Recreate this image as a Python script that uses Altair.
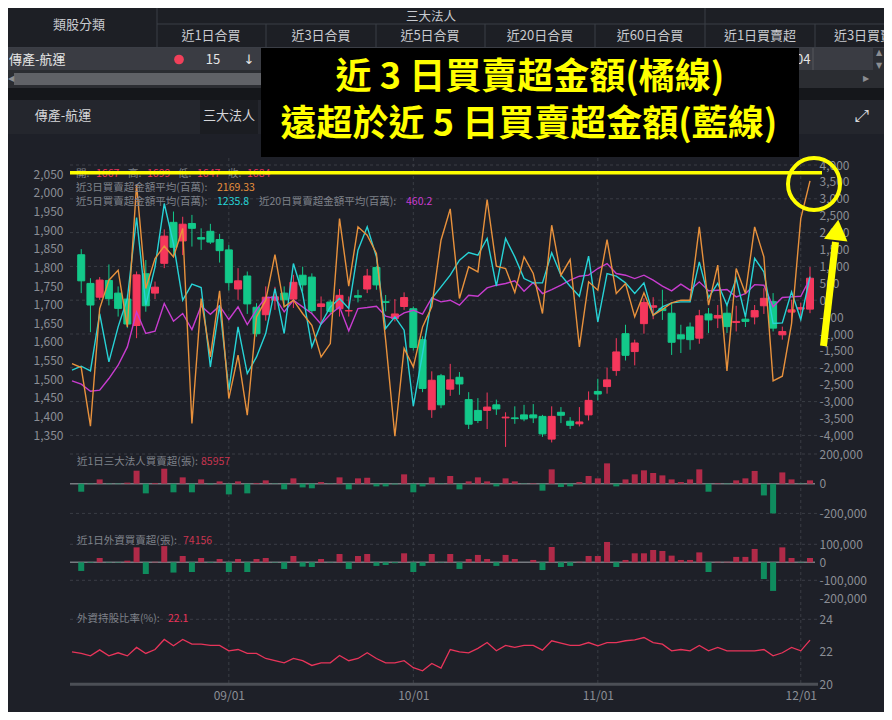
import altair as alt
import pandas as pd

OFF = 8
W, H = 876, 704
FONT = "Noto Sans CJK TC"

# ---------------- data ----------------
day_idx = list(range(-1, 80))     # line series (81 points)
cand_idx = list(range(0, 80))     # candles / bars (80 days)
tick_idx = [16, 36, 56, 78]
tick_lab = ["09/01", "10/01", "11/01", "12/01"]

opens = [1834, 1757, 1720, 1765, 1731, 1715, 1644, 1783, 1731, 1811,
         1921, 1871, 1918, 1880, 1897, 1875, 1847, 1742, 1777, 1693,
         1673, 1712, 1731, 1715, 1779, 1774, 1695, 1707, 1689, 1683,
         1724, 1742, 1800, 1708, 1663, 1695, 1689, 1606, 1418, 1509,
         1473, 1505, 1445, 1416, 1416, 1431, 1396, 1396, 1404, 1404,
         1400, 1339, 1411, 1387, 1380, 1404, 1467, 1480, 1523, 1622,
         1574, 1649, 1693, 1690, 1677, 1619, 1640, 1610, 1675, 1664,
         1677, 1652, 1661, 1667, 1697, 1708, 1619, 1680, 1688, 1688]
highs = [1849, 1771, 1774, 1808, 1749, 1727, 1789, 1820, 1762, 1902,
         1950, 1936, 1941, 1905, 1917, 1890, 1860, 1798, 1789, 1704,
         1749, 1748, 1749, 1780, 1802, 1784, 1722, 1713, 1742, 1722,
         1740, 1796, 1804, 1726, 1715, 1733, 1695, 1615, 1521, 1514,
         1541, 1519, 1465, 1449, 1464, 1445, 1411, 1427, 1431, 1433,
         1404, 1427, 1425, 1398, 1425, 1467, 1501, 1531, 1610, 1646,
         1606, 1717, 1720, 1740, 1702, 1646, 1652, 1686, 1691, 1699,
         1699, 1697, 1675, 1699, 1744, 1731, 1641, 1713, 1705, 1801]
lows = [1731, 1626, 1713, 1698, 1668, 1637, 1610, 1681, 1715, 1798,
        1829, 1833, 1856, 1847, 1863, 1813, 1738, 1713, 1675, 1614,
        1657, 1686, 1695, 1691, 1735, 1675, 1650, 1675, 1668, 1668,
        1706, 1731, 1740, 1682, 1655, 1686, 1577, 1465, 1396, 1422,
        1455, 1458, 1366, 1382, 1366, 1404, 1318, 1380, 1387, 1382,
        1345, 1330, 1382, 1366, 1373, 1389, 1443, 1461, 1509, 1550,
        1537, 1622, 1661, 1659, 1565, 1570, 1579, 1595, 1624, 1637,
        1624, 1628, 1640, 1647, 1675, 1628, 1606, 1650, 1670, 1677]
closes = [1764, 1699, 1766, 1716, 1690, 1648, 1780, 1697, 1747, 1884,
          1854, 1916, 1905, 1876, 1868, 1845, 1759, 1764, 1702, 1622,
          1720, 1721, 1713, 1760, 1753, 1684, 1702, 1682, 1725, 1684,
          1720, 1777, 1753, 1706, 1675, 1719, 1585, 1475, 1497, 1431,
          1498, 1487, 1379, 1389, 1425, 1420, 1398, 1394, 1393, 1396,
          1353, 1400, 1403, 1376, 1385, 1443, 1460, 1498, 1573, 1564,
          1597, 1706, 1697, 1684, 1599, 1608, 1606, 1670, 1659, 1671,
          1641, 1655, 1655, 1684, 1717, 1637, 1628, 1686, 1692, 1771]

avg3 = [-1874, -1992, -3728, -246, 592, 888, -789, 3420, 345, 1233,
        1598, 1282, 2121, -3649, 49, -1677, 276, -2909, -1627, -3403,
        -493, 0, 1351, -197, 0, -394, -740, -1677, -1282, 2417,
        414, 2170, 1923, 1381, -1183, -4024, -1430, -1972, -789, -197,
        1775, 2700, 49, 986, 838, 2979, 1006, 937, 227, 1282,
        789, -394, 2219, 740, 1203, -1381, 543, 296, 1795, 197,
        493, -493, 217, -444, -276, -79, 0, 0, 2170, -148,
        1036, -2091, 937, 197, 2169, 1282, -2387, -2249, -691, 2417,
        3531]
avg5 = [-2071, -1953, -2091, -394, -1825, -789, 49, 2446, -148, 986,
        2860, 1677, 0, 474, 375, -1972, -148, -2663, -789, -2170,
        -1677, -986, 345, -986, 1085, 197, -1381, -690, -197, 49,
        -247, 1479, 2170, 1282, -838, -493, -888, -3136, -1578, 49,
        395, 740, 1184, 1411, 1332, 1825, 414, 1825, 1282, 641,
        513, 513, 1401, 740, 414, 118, 1302, -641, 789, 710,
        513, 197, 513, -444, -197, -79, -49, -49, 1134, 79,
        500, -148, 641, -493, 1236, 837, -690, -671, 246, -571,
        700]
avg20 = [-2387, -2485, -2693, -2663, -2318, -1923, -1381, -345, -986, -917,
         -99, -621, -394, -868, -168, -414, -168, -572, -197, -720,
         -276, 79, 79, -345, 0, -197, -394, -710, -414, -197,
         -907, -247, -217, -177, -473, -542, -375, -296, -414, 69,
         -49, 0, -148, 148, 118, 365, 444, 493, 572, 266,
         523, 197, 316, 444, 592, 710, 740, 937, 1085, 789,
         740, 641, 740, 592, 414, 276, 474, 296, 543, 276,
         296, 316, 99, 197, 460, 444, -197, 79, 99, 118,
         641]
ratio = [22.00, 21.90, 21.75, 22.12, 21.75, 21.94, 21.75, 22.27, 21.90, 22.14,
         22.76, 22.37, 22.76, 22.47, 22.47, 22.39, 22.39, 22.06, 22.14, 21.90,
         21.90, 21.59, 21.45, 21.32, 21.59, 21.45, 21.16, 21.32, 21.32, 21.77,
         21.45, 21.59, 21.94, 21.59, 21.32, 21.32, 21.45, 21.02, 20.83, 21.28,
         21.00, 22.14, 22.00, 21.94, 22.21, 22.57, 22.06, 22.39, 22.27, 22.39,
         22.39, 22.10, 22.68, 22.53, 22.39, 22.39, 22.57, 22.37, 22.57, 22.57,
         22.68, 22.74, 22.88, 22.57, 22.47, 22.06, 22.14, 22.06, 22.39, 22.06,
         22.27, 22.06, 22.06, 22.06, 22.06, 22.14, 21.75, 21.94, 22.27, 22.06,
         22.72]
inst = [-54000, -3000, 29000, -3000, -3000, 7000, 87600, -65000, 5000, 101000,
        -58000, 42700, -58000, 29000, -5000, 15700, -72000, 15700, -65000, 5000,
        22500, -2000, -38000, 36000, -25000, -31000, 11000, -2000, 42700, -38000,
        36000, 40000, -18000, -18000, -5000, 63000, -58000, -18000, 42700, -3000,
        51700, -38000, 15700, 42700, 15700, -18000, 36000, 15700, -2000, 3000,
        -47000, 96600, -22000, -18000, 11000, 51700, 36000, 137000, -18000, 29000,
        63000, 90000, 72000, 56000, 29000, 11000, 29000, 96600, -54000, 3000,
        -3000, 22500, 36000, 85957, -79000, -200000, 76000, 29000, -2000, 22500]
foreign = [-48000, -3000, 24000, -2000, -2000, 9000, 83000, -65000, 3000, 90000,
           -57000, 35000, -54000, 24000, -3000, 18500, -54000, 18500, -54000, 18500,
           24000, -2000, -37000, 35000, -24000, -26000, 18500, -2000, 46000, -37000,
           35000, 46000, -20000, -15000, -5000, 50000, -54000, -20000, 46000, -2000,
           46000, -37000, 18500, 41000, 18500, -20000, 41000, 18500, 0, 13000,
           -43000, 85000, -26000, -20000, 3000, 35000, 35000, 113000, -26000, 13000,
           50000, 50000, 68500, 63000, 37000, 13000, 13000, 55000, -54000, 3000,
           3000, 30000, 30000, 74156, -93000, -159000, 83000, 24000, -2000, 24000]

amt_ticks = list(range(-4000, 4001, 500))
amt_grid = list(range(-4000, 4001, 1000))
price_ticks = list(range(1350, 2051, 50))

# ---------------- styles ----------------
BG = "#1e2028"
GRID = "#3a3d45"
AXC = "#8b8e95"
LBL = "#7f828a"
UP, DOWN = "#f5375c", "#13c98a"
BUP, BDOWN = "#b02a48", "#0f8c5e"
C3, C5, C20 = "#e8913c", "#27d3d6", "#c83ccf"
RED = "#e8345a"
YEL = "#ffff00"

cdf = pd.DataFrame({"idx": cand_idx, "open": opens, "high": highs, "low": lows, "close": closes})
ldf = pd.DataFrame({"idx": day_idx, "a3": avg3, "a5": avg5, "a20": avg20, "ratio": ratio})
bdf = pd.DataFrame({"idx": cand_idx, "inst": inst, "foreign": foreign})
tdf = pd.DataFrame({"idx": tick_idx})


def dv():
    return pd.DataFrame({"d": [0]})


lab_expr = " : ".join(f"datum.value == {i} ? '{l}'" for i, l in zip(tick_idx, tick_lab)) + " : ''"
XAX = alt.Axis(orient="bottom", values=tick_idx, labelExpr=lab_expr, offset=-(H - (684.5 - OFF)),
               ticks=False, domain=False, grid=False, labelPadding=6, labelColor=AXC,
               labelFontSize=12, labelFont=FONT, title=None, labelFlush=False)
XS = alt.Scale(domain=[-1, 79], range=[67 - OFF, 815 - OFF], nice=False, zero=False)


def X():
    return alt.X("idx:Q", scale=XS, axis=XAX)


def sc(dom, bottom, top):
    return alt.Scale(domain=dom, range=[bottom - OFF, top - OFF], zero=False, nice=False)


price_sc = sc([1350, 2050], 435.0, 174.3)
amt_sc = sc([-4000, 4000], 435.4, 165.0)
p1_sc = sc([-200000, 200000], 513.4, 454.0)
p2_sc = sc([-200000, 100000], 598.3, 544.3)
r_sc = sc([20, 24], 684.3, 619.3)

MINUS = "replace(format(datum.value, ','), '\u2212', '-')"


def yaxis(orient, values):
    off = -57 if orient == "left" else (817 - OFF) - W
    return alt.Axis(orient=orient, values=values, offset=off, ticks=False, domain=False, grid=False,
                    labelPadding=2, labelColor=AXC, labelFontSize=12, labelFont=FONT, title=None,
                    labelOverlap=False, labelFlush=False, labelExpr=MINUS)


def rect(x1, y1, x2, y2, color):
    return alt.Chart(dv()).mark_rect(color=color, opacity=1).encode(
        x=alt.value(x1 - OFF), x2=alt.value(x2 - OFF), y=alt.value(y1 - OFF), y2=alt.value(y2 - OFF))


def seg(x1, y1, x2, y2, color, width=1, dash=None):
    kw = dict(color=color, strokeWidth=width, opacity=1)
    if dash:
        kw["strokeDash"] = dash
    return alt.Chart(dv()).mark_rule(**kw).encode(
        x=alt.value(x1 - OFF), x2=alt.value(x2 - OFF), y=alt.value(y1 - OFF), y2=alt.value(y2 - OFF))


def txt(x, y, s, color, size, align="left", weight="normal", font=FONT):
    return alt.Chart(dv()).mark_text(text=s, color=color, fontSize=size, align=align, fontWeight=weight,
                                     font=font, baseline="middle").encode(
        x=alt.value(x - OFF), y=alt.value(y - OFF))


layers = []

# ---------- chart gridlines ----------
layers.append(alt.Chart(tdf).mark_rule(color=GRID, strokeDash=[3, 3]).encode(
    x=X(), y=alt.value(158 - OFF), y2=alt.value(684 - OFF)))
layers.append(alt.Chart(pd.DataFrame({"v": amt_grid})).mark_rule(color=GRID, strokeDash=[3, 3]).encode(
    y=alt.Y("v:Q", scale=amt_sc, axis=None), x=alt.value(70 - OFF), x2=alt.value(820 - OFF)))
layers.append(alt.Chart(pd.DataFrame({"v": [-200000, 200000]})).mark_rule(color=GRID, strokeDash=[3, 3]).encode(
    y=alt.Y("v:Q", scale=p1_sc, axis=None), x=alt.value(70 - OFF), x2=alt.value(820 - OFF)))
layers.append(alt.Chart(pd.DataFrame({"v": [-100000, 100000]})).mark_rule(color=GRID, strokeDash=[3, 3]).encode(
    y=alt.Y("v:Q", scale=p2_sc, axis=None), x=alt.value(70 - OFF), x2=alt.value(820 - OFF)))
layers.append(alt.Chart(pd.DataFrame({"v": [24]})).mark_rule(color=GRID, strokeDash=[3, 3]).encode(
    y=alt.Y("v:Q", scale=r_sc, axis=None), x=alt.value(70 - OFF), x2=alt.value(820 - OFF)))

# ---------- candles ----------
base = alt.Chart(cdf)
for cond, col in (("datum.close >= datum.open", UP), ("datum.close < datum.open", DOWN)):
    layers.append(base.transform_filter(cond).mark_rule(color=col, strokeWidth=1).encode(
        x=X(), y=alt.Y("low:Q", scale=price_sc, axis=None), y2="high:Q"))
    layers.append(base.transform_filter(cond).mark_bar(size=7, color=col, stroke=col, strokeWidth=1).encode(
        x=X(), y=alt.Y("open:Q", scale=price_sc,
                       axis=yaxis("left", price_ticks) if col == UP else None), y2="close:Q"))

# ---------- moving-average lines ----------
lbase = alt.Chart(ldf)
layers.append(lbase.mark_line(color=C20, strokeWidth=1.4).encode(
    x=X(), y=alt.Y("a20:Q", scale=amt_sc, axis=None)))
layers.append(lbase.mark_line(color=C5, strokeWidth=1.4).encode(
    x=X(), y=alt.Y("a5:Q", scale=amt_sc, axis=None)))
layers.append(lbase.mark_line(color=C3, strokeWidth=1.4).encode(
    x=X(), y=alt.Y("a3:Q", scale=amt_sc, axis=yaxis("right", amt_ticks))))

# ---------- institutional / foreign bars ----------
bbase = alt.Chart(bdf)
layers.append(alt.Chart(pd.DataFrame({"v": [0]})).mark_rule(color="#777a80", strokeWidth=1.5).encode(
    y=alt.Y("v:Q", scale=p1_sc, axis=yaxis("right", [-200000, 0, 200000])),
    x=alt.value(70 - OFF), x2=alt.value(815 - OFF)))
layers.append(alt.Chart(pd.DataFrame({"v": [0]})).mark_rule(color="#777a80", strokeWidth=1.5).encode(
    y=alt.Y("v:Q", scale=p2_sc, axis=yaxis("right", [-200000, -100000, 0, 100000])),
    x=alt.value(70 - OFF), x2=alt.value(815 - OFF)))
for field, scl in (("inst", p1_sc), ("foreign", p2_sc)):
    for cond, col in ((f"datum.{field} >= 0", BUP), (f"datum.{field} < 0", BDOWN)):
        layers.append(bbase.transform_filter(cond).mark_bar(size=6, color=col).encode(
            x=X(), y=alt.Y(f"{field}:Q", scale=scl, axis=None), y2=alt.datum(0)))

# ---------- foreign holding ratio ----------
layers.append(alt.Chart(pd.DataFrame({"v": [20]})).mark_rule(color="#4c4f56", strokeWidth=3).encode(
    y=alt.Y("v:Q", scale=r_sc, axis=yaxis("right", [20, 22, 24])),
    x=alt.value(70 - OFF), x2=alt.value(818 - OFF)))
layers.append(lbase.mark_line(color=RED, strokeWidth=1.3).encode(
    x=X(), y=alt.Y("ratio:Q", scale=r_sc, axis=None)))

# ---------- in-chart legends ----------
LF = 10.5
for x, s, c in ((76, "開:", LBL), (96, "1667", RED), (128, "高:", LBL), (147, "1699", RED),
                (178, "低:", LBL), (197, "1647", RED), (228, "收:", LBL), (247, "1684", RED)):
    layers.append(txt(x, 174.3, s, c, LF))
layers.append(txt(76, 188.3, "近3日買賣超金額平均(百萬):", LBL, LF))
layers.append(txt(217, 188.3, "2169.33", C3, LF))
layers.append(txt(76, 202.3, "近5日買賣超金額平均(百萬):", LBL, LF))
layers.append(txt(217, 202.3, "1235.8", C5, LF))
layers.append(txt(259, 202.3, "近20日買賣超金額平均(百萬):", LBL, LF))
layers.append(txt(406, 202.3, "460.2", C20, LF))
layers.append(txt(77, 462.3, "近1日三大法人買賣超(張):", LBL, LF))
layers.append(txt(201, 462.3, "85957", "#c8344f", LF))
layers.append(txt(77, 541, "近1日外資買賣超(張):", LBL, LF))
layers.append(txt(183, 541, "74156", "#c8344f", LF))
layers.append(txt(77, 619.3, "外資持股比率(%):", LBL, LF))
layers.append(txt(168, 619.3, "22.1", RED, LF))

# ---------- page header (table + toolbar) ----------
HDR = "#1d1f25"
SEP = "#3b3e46"
HTXT = "#c9cbd0"
layers += [
    rect(0, 0, 892, 48, HDR),
    rect(0, 48, 892, 70, "#3a3c43"),
    rect(873, 48, 892, 70, "#2c2e34"),
    rect(0, 70, 892, 88, "#2b2d32"),
    rect(14, 73, 272, 85, "#606267"),
    rect(0, 88, 892, 100, "#15171b"),
    rect(0, 100, 892, 134, "#24262d"),
    rect(200, 100, 258, 134, "#1b1d22"),
    seg(157, 0, 157, 48, SEP), seg(705, 0, 705, 48, SEP),
    seg(157, 24, 892, 24, SEP), seg(0, 47.5, 892, 47.5, SEP),
]
for xs in (266, 376, 485, 595, 815):
    layers.append(seg(xs, 24, xs, 48, SEP))
layers.append(seg(813, 48, 813, 70, "#55575d"))
layers.append(txt(79, 25, "類股分類", HTXT, 13, "center"))
layers.append(txt(431, 16.5, "三大法人", HTXT, 12.5, "center"))
for cx, s in ((211, "近1日合買"), (321, "近3日合買"), (430, "近5日合買"), (540, "近20日合買"),
              (650, "近60日合買"), (760, "近1日買賣超"), (870, "近3日買賣超")):
    layers.append(txt(cx, 36, s, HTXT, 13, "center"))
layers.append(txt(9, 59.5, "傳產-航運", "#e6e6e6", 13))
layers.append(alt.Chart(dv()).mark_circle(color="#f0405a", size=95, opacity=1).encode(
    x=alt.value(179 - OFF), y=alt.value(59.5 - OFF)))
layers.append(txt(213, 59.5, "15", "#e6e6e6", 13, "center"))
layers.append(txt(249, 59.5, "↓", "#e6e6e6", 13, "center", font="DejaVu Sans"))
layers.append(txt(796, 59.5, "04", "#e6e6e6", 13))
layers.append(txt(879, 53, "▲", "#8c8e93", 8, "center", font="DejaVu Sans"))
layers.append(txt(879, 66, "▼", "#8c8e93", 8, "center", font="DejaVu Sans"))
layers.append(txt(11, 79, "◀", "#8c8e93", 8, "center", font="DejaVu Sans"))
layers.append(txt(866, 79, "▶", "#8c8e93", 8, "center", font="DejaVu Sans"))
layers.append(txt(63, 116, "傳產-航運", "#d6d7da", 13, "center"))
layers.append(txt(229, 116, "三大法人", "#d6d7da", 13, "center"))
layers.append(txt(862, 116, "⤢", "#d6d7da", 17, "center", font="DejaVu Sans"))

# ---------- annotation ----------
layers += [
    rect(261, 48, 799, 157, "#000000"),
    txt(530, 78, "近 3 日買賣超金額(橘線)", YEL, 36, "center", "bold"),
    txt(529, 125, "遠超於近 5 日買賣超金額(藍線)", YEL, 36, "center", "bold"),
    seg(70, 172.7, 822, 172.7, YEL, 3.5),
    seg(823.5, 346, 835.5, 242, YEL, 7),
]
layers.append(alt.Chart(dv()).mark_point(shape="circle", filled=False, color=YEL, strokeWidth=4,
                                          size=2704, opacity=1).encode(
    x=alt.value(814 - OFF), y=alt.value(184 - OFF)))
layers.append(alt.Chart(dv()).mark_point(shape="triangle-up", filled=True, color=YEL, size=560,
                                          angle=7, opacity=1).encode(
    x=alt.value(837 - OFF), y=alt.value(230 - OFF)))

chart = alt.layer(*layers).resolve_scale(y="independent").properties(
    width=W, height=H, padding=0, background=BG,
    autosize=alt.AutoSizeParams(type="none"),
).configure_view(stroke=None)

chart.save("out.html", embed_options={"renderer": "svg", "actions": False})
